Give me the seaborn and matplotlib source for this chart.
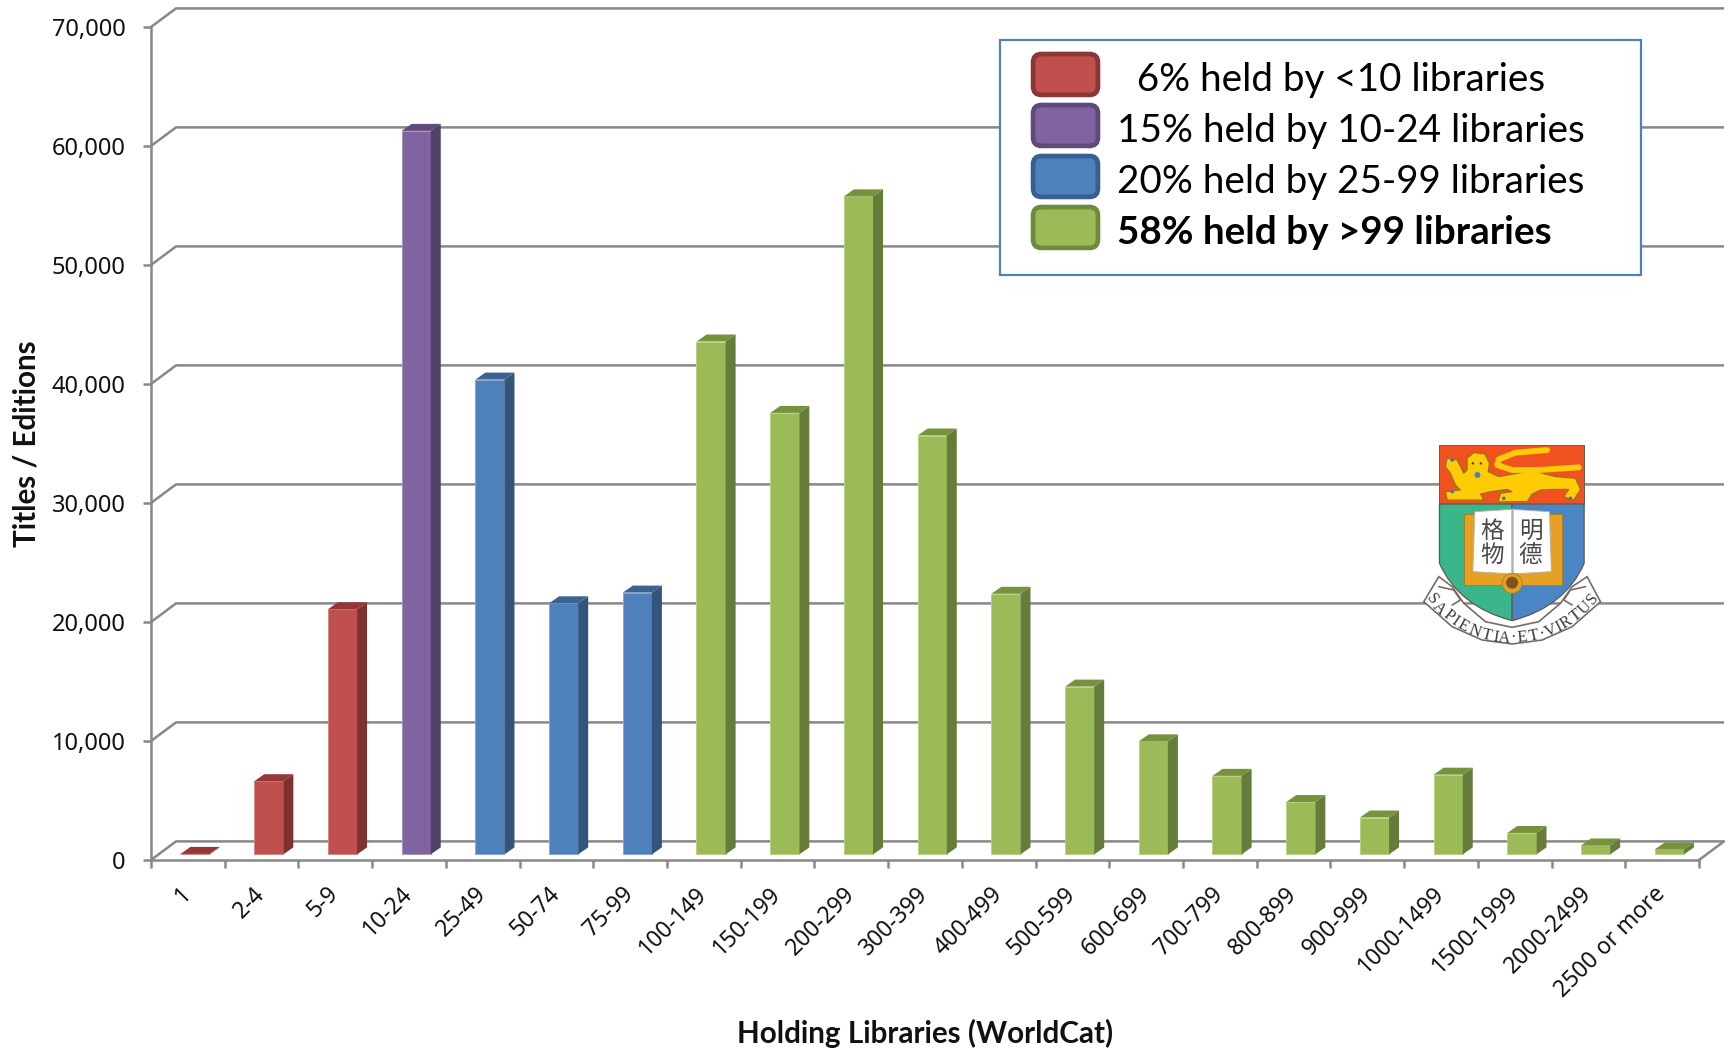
import numpy as np
import pandas as pd
import seaborn as sns
import matplotlib
matplotlib.use("Agg")
import matplotlib.pyplot as plt
from matplotlib.patches import Polygon, Rectangle, FancyBboxPatch, PathPatch, Circle, Patch
from matplotlib.path import Path
from matplotlib.legend_handler import HandlerBase
from matplotlib.transforms import Affine2D

# Holdings distribution
bins = ["1", "2-4", "5-9", "10-24", "25-49", "50-74", "75-99", "100-149", "150-199",
        "200-299", "300-399", "400-499", "500-599", "600-699", "700-799", "800-899",
        "900-999", "1000-1499", "1500-1999", "2000-2499", "2500 or more"]
titles = [40, 6150, 20600, 60800, 39900, 21100, 22000, 43100, 37100, 55300, 35200,
          21900, 14100, 9500, 6600, 4400, 3100, 6700, 1800, 750, 420]
groups = ["low"] * 3 + ["mid"] + ["high"] * 3 + ["top"] * 14
group_names = ["low", "mid", "high", "top"]
legend_labels = ["  6% held by <10 libraries", "15% held by 10-24 libraries",
                 "20% held by 25-99 libraries", "58% held by >99 libraries"]
y_ticks = [0, 10000, 20000, 30000, 40000, 50000, 60000, 70000]

face = {"low": "#C0504D", "mid": "#8064A2", "high": "#4F81BD", "top": "#9BBB59"}
side = {"low": "#7D3230", "mid": "#53406A", "high": "#34547C", "top": "#667C3A"}
roof = {"low": "#953735", "mid": "#5F4A7A", "high": "#3B6290", "top": "#76923C"}
edge = {"low": "#8A3735", "mid": "#5F4A7A", "high": "#375F90", "top": "#6F8A3C"}
rim = {"low": "#D08A88", "mid": "#A994C0", "high": "#86A8D2", "top": "#BAD185"}
GRID = "#888888"

sns.set_theme(style="white")
plt.rcParams["font.family"] = ["Noto Sans", "DejaVu Sans"]

W, H = 1733, 1051
fig = plt.figure(figsize=(W / 100, H / 100), dpi=100)
ax = fig.add_axes([151 / W, 1 - 860 / H, (1699 - 151) / W, (860 - 27) / H])

df = pd.DataFrame({"bin": bins, "titles": titles, "group": groups})
sns.barplot(data=df, x="bin", y="titles", hue="group", hue_order=group_names,
            palette=face, saturation=1, dodge=False, width=0.395, legend=False, ax=ax,
            zorder=3, linewidth=0)
ax.set_xlim(-0.5, 20.5)
ax.set_ylim(0, 70000)

# Pixel sizes converted to data units for the oblique projection
px_x = 1 / 73.71
px_y = 70000 / 833
depth_x, depth_y = 25 * px_x, 18.6 * px_y
front_x, front_y = 7.2 * px_x, 5.6 * px_y
bar_dx, bar_dy = 10 * px_x, 7 * px_y

# Back wall lines and their diagonal links to the front axis
for t in y_ticks:
    ax.plot([-0.5, -0.5 + depth_x, 20.5 + depth_x], [t, t + depth_y, t + depth_y],
            color=GRID, lw=1.8, clip_on=False, zorder=1, solid_capstyle="butt")
ax.plot([20.5, 20.5 + depth_x], [0, depth_y], color=GRID, lw=1.8, clip_on=False, zorder=1)

# Front faces sit slightly behind the axis; sides and tops complete each box
shift = Affine2D().translate(front_x, front_y) + ax.transData
for bar in list(ax.patches):
    x0, w, h = bar.get_x(), bar.get_width(), bar.get_height()
    g = groups[int(round(x0 + w / 2))]
    bar.set_transform(shift)
    bar.set_clip_on(False)
    bar.set_edgecolor(rim[g])
    bar.set_linewidth(0.7)
    l, r = x0 + front_x, x0 + w + front_x
    b, t = front_y, h + front_y
    ax.add_patch(Polygon([(r, b), (r + bar_dx, b + bar_dy), (r + bar_dx, t + bar_dy), (r, t)],
                         closed=True, fc=side[g], ec="none", zorder=3, clip_on=False))
    ax.add_patch(Polygon([(l, t), (r, t), (r + bar_dx, t + bar_dy), (l + bar_dx, t + bar_dy)],
                         closed=True, fc=roof[g], ec="none", zorder=3, clip_on=False))

sns.despine(ax=ax, top=True, right=True)
for name in ("left", "bottom"):
    ax.spines[name].set_color(GRID)
    ax.spines[name].set_linewidth(1.8)

ax.set_yticks(y_ticks)
ax.set_yticklabels([f"{t:,}" for t in y_ticks], fontsize=17, color="#111111")
ax.tick_params(axis="y", length=5.8, width=1.8, color=GRID, pad=12.5, left=True)
ax.set_xticks(np.arange(21))
ax.set_xticks(np.arange(-0.5, 21), minor=True)
ax.tick_params(axis="x", which="minor", length=5.8, width=1.8, color=GRID, bottom=True)
ax.tick_params(axis="x", which="major", length=0, pad=22)
ax.set_xticklabels(bins, fontsize=16.5, color="#111111", rotation=45, ha="right",
                   va="center", rotation_mode="anchor")

ax.set_xlabel("Holding Libraries (WorldCat)", fontsize=21.3, fontweight="bold",
              family="Lato", color="#111111")
ax.xaxis.set_label_coords(0.5, -(1033 - 860) / 833)
ax.xaxis.label.set_va("center")
ax.set_ylabel("Titles / Editions", fontsize=21.3, fontweight="bold", family="Lato",
              color="#111111")
ax.yaxis.set_label_coords((27 - 151) / 1548, 0.5)
ax.yaxis.label.set_va("center")

# Pixel-addressed layer for the key panel and the crest
top = fig.add_axes([0, 0, 1, 1], zorder=5)
top.set_xlim(0, W)
top.set_ylim(H, 0)
top.axis("off")
top.patch.set_alpha(0)

top.add_patch(Rectangle((1000.5, 40), 641, 235, fc="white", ec="#4F81BD", lw=1.6, zorder=2))


class SwatchHandler(HandlerBase):
    def create_artists(self, legend, orig, xd, yd, width, height, fontsize, trans):
        rad = 6
        lift = 2.4
        box = FancyBboxPatch((-xd + rad, -yd + rad + lift), width - 2 * rad, height - 2 * rad,
                             boxstyle=f"round,pad={rad - 1.5},rounding_size={rad}",
                             fc=orig.get_facecolor(), ec=orig.get_edgecolor(), lw=3.4,
                             transform=trans)
        return [box]


handles = [Patch(fc=face[g], ec=edge[g], label=lab) for g, lab in zip(group_names, legend_labels)]
fs = 27.8
em = fs * 100 / 72
leg = top.legend(handles=handles, loc="upper left", bbox_to_anchor=(1031 / W, 1 - 55.3 / H),
                 bbox_transform=fig.transFigure, frameon=False, borderpad=0,
                 borderaxespad=0, handlelength=69 / em, handleheight=(45 / em - 0.245) / 0.65,
                 handletextpad=17 / em, labelspacing=6 / em,
                 prop={"family": "Lato", "size": fs},
                 handler_map={Patch: SwatchHandler()})
leg.set_zorder(3)
leg.get_texts()[-1].set_fontweight("bold")
for txt in leg.get_texts():
    txt.set_color("black")


def crest(x, y):
    """Convert crest drawing units to figure pixels."""
    return 1398.8 + x / 3, 430 + y / 3


def crest_pts(points):
    return [crest(px, py) for px, py in points]


# Shield: chief, green and blue halves
band = crest_pts([(122, 45), (556, 45), (556, 222), (122, 222)])
top.add_patch(Polygon(band, closed=True, fc="#F0521F", ec="#6B5A50", lw=0.7, zorder=6))
left_half = Path(crest_pts([(122, 222), (340, 222), (340, 572), (340, 572), (180, 530), (122, 400), (122, 222)]),
                 [Path.MOVETO, Path.LINETO, Path.LINETO, Path.LINETO, Path.CURVE3, Path.CURVE3, Path.LINETO])
right_half = Path(crest_pts([(556, 222), (340, 222), (340, 572), (340, 572), (500, 530), (556, 400), (556, 222)]),
                  [Path.MOVETO, Path.LINETO, Path.LINETO, Path.LINETO, Path.CURVE3, Path.CURVE3, Path.LINETO])
top.add_patch(PathPatch(left_half, fc="#3BB68B", ec="#5A5A55", lw=0.9, zorder=6))
top.add_patch(PathPatch(right_half, fc="#4A86C6", ec="#5A5A55", lw=0.9, zorder=6))

# Lion
lion = [(145, 85), (175, 90), (195, 130), (205, 120), (205, 85), (225, 68), (258, 72),
        (272, 100), (268, 125), (300, 140), (400, 122), (470, 140), (530, 145), (545, 178),
        (525, 210), (495, 200), (510, 178), (470, 178), (425, 180), (400, 192), (385, 215),
        (298, 215), (305, 190), (340, 185), (325, 178), (275, 185), (245, 192), (255, 210),
        (145, 210), (140, 185), (185, 180), (170, 165), (155, 130), (140, 110)]
top.add_patch(Polygon(crest_pts(lion), closed=True, fc="#FFCB05", ec="#8F7420", lw=0.8, zorder=7))
tail_top = crest_pts([(445, 60), (350, 68), (300, 88), (295, 105), (340, 120), (420, 120), (540, 112)])
top.plot(*zip(*tail_top), color="#FFCB05", lw=4.2, zorder=7, solid_capstyle="round")
inner = crest_pts([(312, 98), (350, 86), (395, 90), (368, 102), (322, 104)])
top.add_patch(Polygon(inner, closed=True, fc="#F0521F", ec="none", zorder=8))
for eye in [(222, 100), (246, 100)]:
    top.add_patch(Circle(crest(*eye), 1.2, fc="#5A4020", ec="none", zorder=8))
top.add_patch(Circle(crest(236, 135), 3.0, fc="#4A86C6", ec="none", zorder=8))
for paw in [(160, 90), (160, 185), (315, 205), (515, 205)]:
    top.add_patch(Circle(crest(*paw), 1.8, fc="#4A6FA8", ec="none", zorder=8))

# Open book with its clasp
cover = crest_pts([(195, 252), (490, 252), (490, 465), (195, 465)])
top.add_patch(Polygon(cover, closed=True, fc="#E6A024", ec="#A8801E", lw=0.7, zorder=7))
pages = crest_pts([(228, 245), (340, 238), (452, 245), (458, 425), (340, 432), (222, 425)])
top.add_patch(Polygon(pages, closed=True, fc="white", ec="#B8B0A0", lw=0.7, zorder=8))
top.plot(*zip(*crest_pts([(340, 238), (340, 432)])), color="#B9B2AD", lw=1.8, zorder=9)
for (cx, cy), ch in zip([(280, 305), (280, 377), (395, 305), (395, 377)], "格物明德"):
    px_, py_ = crest(cx, cy)
    top.text(px_, py_, ch, fontsize=17, ha="center", va="center", color="#4A4A4A",
             family="Noto Sans CJK TC", zorder=10)
top.add_patch(Circle(crest(340, 460), 10, fc="#E0A020", ec="#A8801E", lw=0.6, zorder=9))
top.add_patch(Circle(crest(340, 458), 6, fc="#80501E", ec="none", zorder=10))

# Motto scroll
ribbon = [(75, 515), (120, 440), (160, 470), (195, 520), (260, 575), (340, 592), (420, 575),
          (485, 520), (520, 470), (565, 440), (605, 515), (520, 590), (430, 630), (340, 642),
          (250, 630), (160, 590)]
top.add_patch(Polygon(crest_pts(ribbon), closed=True, fc="white", ec="#7B6A64", lw=1.2, zorder=11))
for curl in ([(120, 470), (165, 480), (185, 510), (160, 525)],
             [(560, 470), (515, 480), (495, 510), (520, 525)]):
    top.plot(*zip(*crest_pts(curl)), color="#7B6A64", lw=1.2, zorder=12)

motto = "SAPIENTIA·ET·VIRTUS"
weights = np.array([0.5 if c in "I·" else (1.2 if c == "N" else 1.0) for c in motto])
edges = np.cumsum(weights) / weights.sum()
mids = edges - weights / weights.sum() / 2
R = 102.7
cx0, cy0 = crest(340, 317)
for c, f in zip(motto, mids):
    theta = np.deg2rad(-55 + 110 * f)
    top.text(cx0 + R * np.sin(theta), cy0 + R * np.cos(theta), c, fontsize=12,
             family="Liberation Serif", color="#3E3A38", ha="center", va="center",
             rotation=np.rad2deg(theta), rotation_mode="anchor", zorder=13)

fig.savefig("out.png", dpi=100, facecolor="white")
